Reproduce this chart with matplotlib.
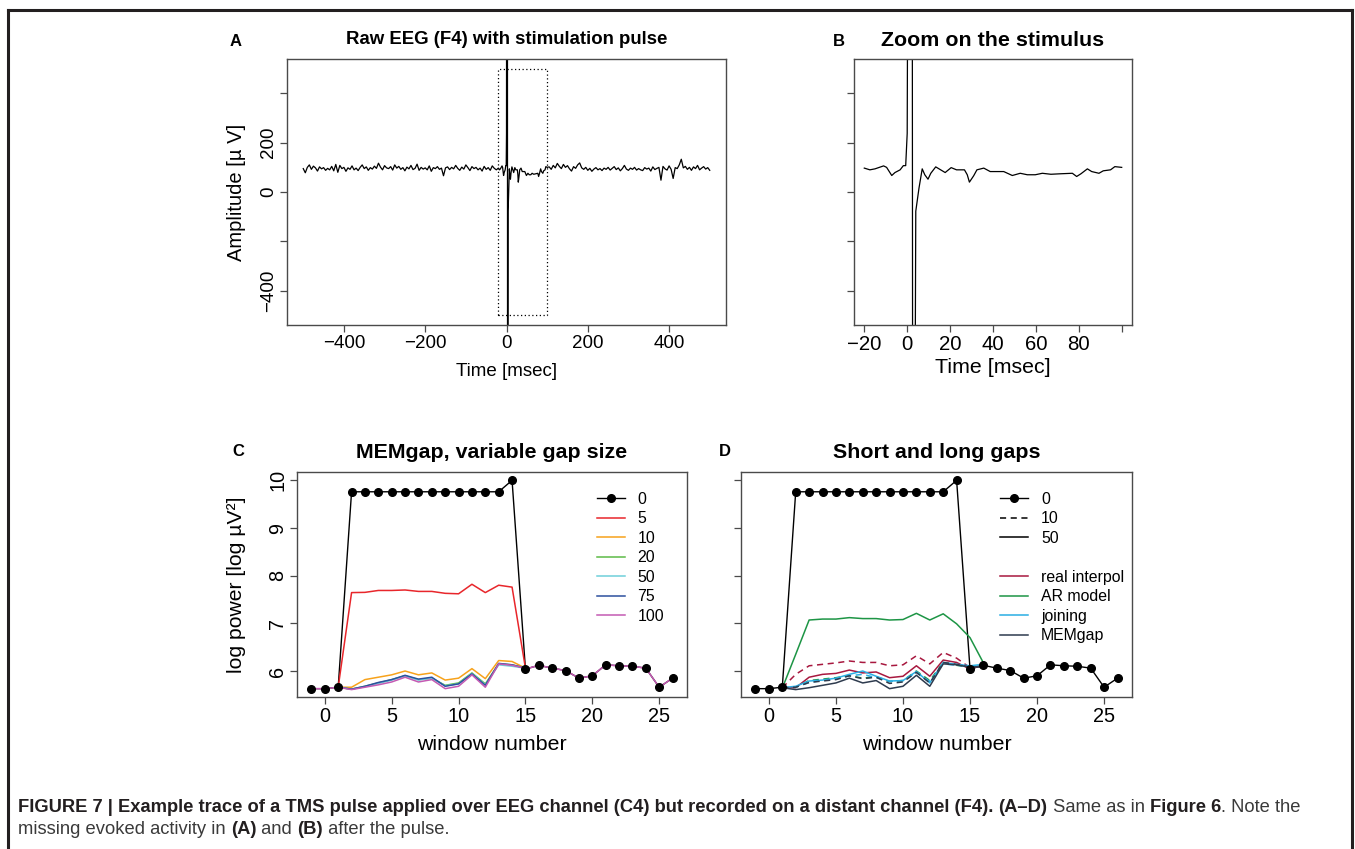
import numpy as np
import matplotlib
matplotlib.use("Agg")
import matplotlib.pyplot as plt
from matplotlib.lines import Line2D

plt.rcParams['font.family'] = ['Liberation Sans', 'DejaVu Sans']

# ---------------- data ----------------
# raw EEG (F4), 5 ms steps outside the zoom window
t_pre = list(range(-500, -24, 5))
eeg_pre = [95, 78, 100, 110, 92, 105, 98, 85, 102, 94,
           99, 88, 96, 90, 104, 86, 112, 80, 108, 95,
           100, 84, 98, 92, 106, 90, 97, 87, 100, 110,
           95, 102, 88, 99, 93, 105, 96, 117, 101, 90,
           107, 98, 95, 103, 89, 110, 97, 104, 92, 99,
           86, 101, 94, 108, 91, 96, 113, 88, 100, 93,
           98, 90, 106, 84, 99, 95, 103, 92, 97, 66,
           98, 102, 91, 100, 94, 108, 96, 88, 101, 93,
           110, 99, 87, 103, 95, 100, 90, 97, 85, 104,
           92, 99, 88, 106, 96, 90]
# samples around the pulse (-20 .. 100 ms)
t_mid = [-20, -17.4, -15, -11, -9.6, -7.2, -5.7, -3.3, -1.8, -0.7, 0, 1, 2.2, 2.7,
         3.4, 4, 5.5, 7, 8.2, 9.7, 11, 13.3, 15.6, 17.7, 20.5, 23, 26.7, 28, 29, 31,
         32.5, 35.7, 38.7, 42, 45, 49, 52.7, 56, 59.7, 63, 67, 71.5, 77, 79, 81, 84,
         86, 89.4, 91.4, 94.8, 96.8, 100]
eeg_mid = [97, 90, 94, 106, 100, 67, 79, 90, 107, 107, 238, 3000, 3000, -3000,
           -1500, -78, 16, 94, 70, 52, 76, 102, 90, 79, 99, 90, 90, 70, 40, 66,
           90, 97, 83, 83, 83, 67, 76, 70, 70, 76, 72, 74, 76, 63, 74, 94,
           83, 76, 86, 90, 103, 100]
t_post = list(range(105, 501, 5))
eeg_post = [102, 92, 108, 98, 116, 104, 95, 112, 100, 107,
            94, 85, 103, 96, 110, 118, 98, 92, 100, 88,
            96, 84, 93, 99, 90, 95, 87, 97, 92, 100,
            89, 96, 103, 91, 98, 86, 95, 108, 93, 88,
            97, 92, 100, 89, 95, 90, 87, 99, 93, 97,
            85, 102, 91, 96, 100, 48, 104, 94, 89, 106,
            92, 55, 99, 95, 110, 133, 98, 104, 92, 100,
            88, 102, 95, 108, 90, 97, 103, 93, 99, 88]

# log power per window
win = list(range(-1, 27))
pow_raw = [5.63, 5.63, 5.66, 9.76, 9.76, 9.76, 9.76, 9.76, 9.76, 9.76, 9.76, 9.76,
           9.76, 9.76, 9.76, 10.0, 6.04, 6.12, 6.06, 6.01, 5.85, 5.90, 6.13, 6.11,
           6.10, 6.06, 5.66, 5.85]

gap_win = list(range(1, 16))
gap_labels = ['5', '10', '20', '50', '75', '100']
gap_colors = ['#E8262B', '#F7A21B', '#5DBB46', '#6FD0DA', '#2C4F9E', '#C45AB3']
mem_5 = [5.66, 7.645, 7.65, 7.69, 7.69, 7.70, 7.67, 7.67, 7.63, 7.62, 7.82, 7.645, 7.80, 7.76, 6.06]
mem_10 = [5.66, 5.66, 5.82, 5.87, 5.92, 6.00, 5.92, 5.96, 5.81, 5.85, 6.05, 5.84, 6.22, 6.20, 6.06]
mem_20 = [5.66, 5.62, 5.68, 5.75, 5.82, 5.90, 5.82, 5.85, 5.70, 5.75, 5.96, 5.73, 6.15, 6.13, 6.06]
mem_50 = [5.66, 5.62, 5.67, 5.74, 5.81, 5.90, 5.81, 5.85, 5.69, 5.73, 5.95, 5.71, 6.13, 6.10, 6.06]
mem_75 = [5.66, 5.62, 5.68, 5.76, 5.82, 5.91, 5.83, 5.87, 5.68, 5.73, 5.94, 5.70, 6.16, 6.13, 6.06]
mem_100 = [5.66, 5.61, 5.66, 5.71, 5.77, 5.87, 5.77, 5.82, 5.63, 5.68, 5.92, 5.66, 6.15, 6.12, 6.06]
mem_after = [6.04, 6.12, 6.06, 6.01, 5.85, 5.90, 6.13, 6.11, 6.10, 6.06, 5.66, 5.85]

meth_win = list(range(1, 17))
methods = ['real interpol', 'AR model', 'joining', 'MEMgap']
meth_colors = ['#A8183F', '#1D9545', '#2AAEE3', '#2E3B4E']
gap10 = {
    'real interpol': [5.65, 5.93, 6.11, 6.14, 6.17, 6.21, 6.18, 6.18, 6.11, 6.13, 6.32, 6.15, 6.39, 6.27, 6.07, 6.10],
    'AR model':      [5.64, 5.66, 5.80, 5.83, 5.86, 5.90, 5.85, 5.88, 5.78, 5.80, 6.00, 5.80, 6.18, 6.12, 6.08, 6.10],
    'joining':       [5.65, 5.66, 5.76, 5.80, 5.83, 5.90, 5.93, 5.86, 5.78, 5.80, 5.97, 5.78, 6.15, 6.12, 6.10, 6.12],
    'MEMgap':        [5.65, 5.66, 5.76, 5.79, 5.82, 5.90, 5.84, 5.87, 5.74, 5.77, 5.97, 5.75, 6.18, 6.14, 6.08, 6.10],
}
gap50 = {
    'real interpol': [5.65, 5.65, 5.87, 5.93, 5.95, 6.02, 5.96, 5.98, 5.86, 5.89, 6.11, 5.89, 6.23, 6.18, 6.04, 6.13],
    'AR model':      [5.64, 6.35, 7.07, 7.09, 7.09, 7.12, 7.10, 7.10, 7.07, 7.08, 7.21, 7.07, 7.20, 6.99, 6.70, 6.17],
    'joining':       [5.65, 5.68, 5.79, 5.81, 5.85, 5.93, 6.00, 5.89, 5.79, 5.80, 5.99, 5.75, 6.18, 6.14, 6.11, 6.14],
    'MEMgap':        [5.65, 5.61, 5.65, 5.70, 5.75, 5.85, 5.75, 5.80, 5.63, 5.68, 5.91, 5.68, 6.15, 6.13, 6.08, 6.10],
}

# ---------------- figure ----------------
W, H = 1355, 849
fig = plt.figure(figsize=(W / 100, H / 100), dpi=100)

def box(x0, y0, x1, y1):
    return [x0 / W, 1 - y1 / H, (x1 - x0) / W, (y1 - y0) / H]

BOX = '#4a4a4a'

def style(ax, size):
    for s in ax.spines.values():
        s.set_color(BOX)
        s.set_linewidth(1.0)
    ax.tick_params(direction='out', length=5, width=0.9, color=BOX,
                   labelsize=size, pad=2, top=False, right=False)
    for lab in ax.get_yticklabels():
        lab.set_rotation(90)
        lab.set_va('center')

axA = fig.add_axes(box(287, 59, 726, 325))
axB = fig.add_axes(box(854, 59, 1132, 325))
axC = fig.add_axes(box(297, 472, 687, 697))
axD = fig.add_axes(box(741, 472, 1132, 697))

t_all = t_pre + t_mid + t_post
eeg_all = eeg_pre + eeg_mid + eeg_post

# A: raw EEG
axA.plot(t_all, eeg_all, color='black', lw=0.9)
axA.plot([-20, 100, 100, -20, -20], [-500, -500, 500, 500, -500],
         color='black', lw=0.9, ls=(0, (1, 2)))
axA.set_xlim(-540, 540)
axA.set_ylim(-540, 540)
axA.set_xticks([-400, -200, 0, 200, 400])
axA.set_yticks([-400, -200, 0, 200, 400])
axA.set_yticklabels(['\u2212400', '', '0', '200', ''])
style(axA, 13.5)
axA.set_xlabel('Time [msec]', fontsize=13.5, va='center')
axA.xaxis.set_label_coords(0.5, -0.173)
axA.set_ylabel('Amplitude [\u00b5 V]', fontsize=14.5, va='center')
axA.yaxis.set_label_coords(-0.114, 0.5)

# B: zoom on the stimulus
axB.plot(t_mid, eeg_mid, color='black', lw=0.9)
axB.set_xlim(-24.8, 104.8)
axB.set_ylim(-540, 540)
axB.set_xticks([-20, 0, 20, 40, 60, 80, 100])
axB.set_xticklabels(['\u221220', '0', '20', '40', '60', '80', ''])
axB.set_yticks([-400, -200, 0, 200, 400])
axB.set_yticklabels([])
style(axB, 14.7)
axB.set_xlabel('Time [msec]', fontsize=15.4, va='center')
axB.xaxis.set_label_coords(0.5, -0.16)

# C: MEMgap, variable gap size
axC.plot(win, pow_raw, color='black', lw=1.0, zorder=2)
for lab, col, vals in zip(gap_labels, gap_colors, [mem_5, mem_10, mem_20, mem_50, mem_75, mem_100]):
    axC.plot(gap_win, vals, color=col, lw=1.1, zorder=3)
axC.plot(win[-12:], mem_after, color=gap_colors[-1], lw=1.1, zorder=3)
axC.plot(win[:3], pow_raw[:3], color=gap_colors[-1], lw=1.1, zorder=3)
axC.plot(win, pow_raw, ls='none', marker='o', ms=5.5, color='black', zorder=4)
axC.set_xlim(-2.08, 27.08)
axC.set_ylim(5.455, 10.175)
axC.set_xticks([0, 5, 10, 15, 20, 25])
axC.set_yticks([6, 7, 8, 9, 10])
style(axC, 14.3)
axC.set_xlabel('window number', fontsize=15.4, va='center')
axC.xaxis.set_label_coords(0.5, -0.209)
axC.set_ylabel('log power [log \u00b5V\u00b2]', fontsize=15.2, va='center')
axC.yaxis.set_label_coords(-0.154, 0.5)

LEG = dict(loc='upper left', frameon=False, fontsize=11.4, handlelength=1.77,
           handletextpad=0.82, labelspacing=0.28, borderpad=0, borderaxespad=0)
hC = [Line2D([], [], color='black', marker='o', ms=5.5, lw=1.0)]
hC += [Line2D([], [], color=c, lw=1.1) for c in gap_colors]
axC.legend(hC, ['0'] + gap_labels, bbox_to_anchor=(0.768, 0.911), **LEG)

# D: short and long gaps
axD.plot(win, pow_raw, color='black', lw=1.0, zorder=2)
for m, col in zip(methods, meth_colors):
    axD.plot(meth_win, gap10[m], color=col, lw=1.1, ls=(0, (4, 3)), zorder=3)
    axD.plot(meth_win, gap50[m], color=col, lw=1.1, zorder=3)
axD.plot(win, pow_raw, ls='none', marker='o', ms=5.5, color='black', zorder=4)
axD.set_xlim(-2.08, 27.08)
axD.set_ylim(5.455, 10.175)
axD.set_xticks([0, 5, 10, 15, 20, 25])
axD.set_yticks([6, 7, 8, 9, 10])
axD.set_yticklabels([])
style(axD, 14.3)
axD.set_xlabel('window number', fontsize=15.4, va='center')
axD.xaxis.set_label_coords(0.5, -0.209)
hD = [Line2D([], [], color='black', marker='o', ms=5.5, lw=1.0),
      Line2D([], [], color='black', lw=1.1, ls=(0, (4, 3))),
      Line2D([], [], color='black', lw=1.1),
      Line2D([], [], color='none')]
hD += [Line2D([], [], color=c, lw=1.1) for c in meth_colors]
axD.legend(hD, ['0', '10', '50', ''] + methods, bbox_to_anchor=(0.663, 0.911), **LEG)

# titles and panel letters
axA.text(0.5, 1 + 19 / 266, 'Raw EEG (F4) with stimulation pulse', transform=axA.transAxes,
         ha='center', va='center', fontsize=13.45, weight='bold')
axB.text(0.5, 1 + 19 / 266, 'Zoom on the stimulus', transform=axB.transAxes,
         ha='center', va='center', fontsize=15.4, weight='bold')
for ax, title in [(axC, 'MEMgap, variable gap size'), (axD, 'Short and long gaps')]:
    ax.text(0.5, 1 + 20 / 225, title, transform=ax.transAxes, ha='center',
            va='center', fontsize=15.4, weight='bold')
for letter, x, y in [('A', 236, 41), ('B', 839, 41), ('C', 238, 452), ('D', 725, 452)]:
    fig.text(x / W, 1 - y / H, letter, ha='center', va='center', fontsize=12, weight='bold')

# figure frame
for xs, ys in [([8, 8], [H + 5, 10]), ([8, 1352], [10, 10]), ([1352, 1352], [10, H + 5])]:
    fig.add_artist(Line2D([x / W for x in xs], [1 - y / H for y in ys],
                          color='#231F20', lw=2.2, transform=fig.transFigure))

# caption with mixed bold / regular pieces
renderer = fig.canvas.get_renderer()

def rich_line(x, y, parts, size=13.2):
    for txt, bold in parts:
        t = fig.text(x / W, 1 - y / H, txt, fontsize=size, va='center', ha='left',
                     weight='bold' if bold else 'normal',
                     color='#231F20' if bold else '#3a3a3a')
        x += t.get_window_extent(renderer).width

rich_line(18, 807, [
    ('FIGURE 7 | Example trace of a TMS pulse applied over EEG channel (C4) but recorded on a distant channel (F4). ', True),
    ('(A\u2013D)', True), (' Same as in ', False), ('Figure 6', True), ('. Note the', False)])
rich_line(18, 829, [
    ('missing evoked activity in ', False), ('(A)', True), (' and ', False),
    ('(B)', True), (' after the pulse.', False)])

fig.savefig('out.png', dpi=100)
